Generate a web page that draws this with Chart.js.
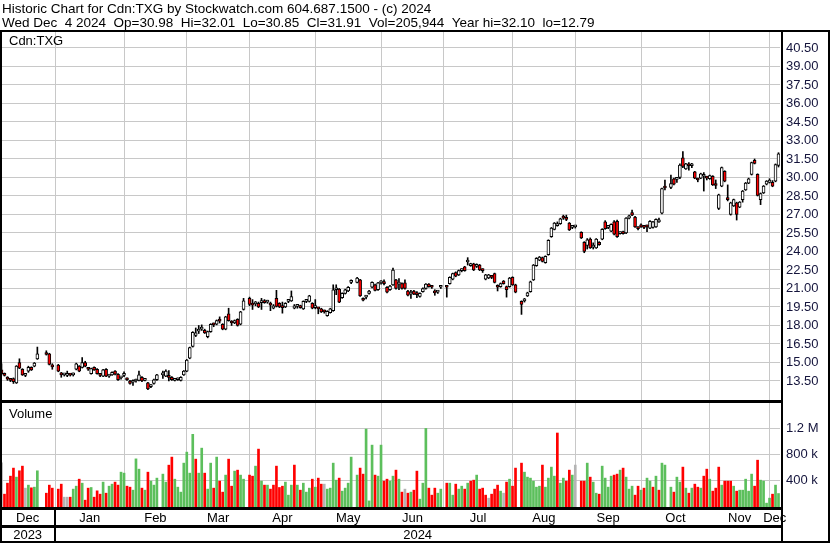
<!DOCTYPE html>
<html>
<head>
<meta charset="utf-8">
<title>Historic Chart for Cdn:TXG</title>
<script src="https://cdn.jsdelivr.net/npm/chart.js@4.4.1/dist/chart.umd.min.js"></script>
<style>
  html, body { margin: 0; padding: 0; background: #fff; }
  #chart { display: block; }
</style>
</head>
<body>
<canvas id="chart" width="830" height="543"></canvas>
<script>
const headerLines = [
  'Historic Chart for Cdn:TXG by Stockwatch.com 604.687.1500 - (c) 2024',
  'Wed Dec  4 2024  Op=30.98  Hi=32.01  Lo=30.85  Cl=31.91  Vol=205,944  Year hi=32.10  lo=12.79',
];
const symbol = 'Cdn:TXG';
const firstDay = '2023-12-06';
const lastDay = '2024-12-04';
const monthNames = ['Jan', 'Feb', 'Mar', 'Apr', 'May', 'Jun', 'Jul', 'Aug', 'Sep', 'Oct', 'Nov', 'Dec'];
const priceTicks = [13.5, 15, 16.5, 18, 19.5, 21, 22.5, 24, 25.5, 27, 28.5, 30, 31.5, 33, 34.5, 36, 37.5, 39, 40.5];
const volumeTicks = [400, 800, 1200]; // thousands of shares

// one entry per weekday, null = market closed (holiday)
const opens = [
  14.40, 14.10, 13.80, 13.65, 13.70, 13.35, 15.00, 14.45, 13.95, 14.30, 14.60, 14.70, 15.30, null, null, 15.80, 15.70, 14.70,
  null, 14.80, 14.05, 14.00, 13.95, 14.00, 14.00, 14.45, 14.70, 14.60, 15.00, 14.50, 14.10, 14.60, 14.45, 14.00, 13.90, 14.45, 13.90, 14.00, 14.30, 14.05, 13.75,
  13.95, 13.70, 13.50, 13.40, 13.50, 13.55, 13.80, 13.55, 13.35, 13.05, 13.30, 13.60, null, 14.00, 13.90, 13.85, 13.80, 13.55, 13.60, 13.55, 14.00,
  14.30, 15.35, 16.30, 17.20, 17.55, 17.70, 17.60, 17.10, 17.50, 18.10, 18.10, 18.40, 18.10, 17.70, 18.95, 18.25, 18.20, 18.50, 18.10, 19.30, null,
  20.20, 19.70, 19.75, 19.80, 19.85, 20.00, 19.90, 19.70, 19.40, 20.20, 19.80, 19.50, 19.50, 19.95, 20.00, 19.40, 19.55, 19.60, 19.35, 19.95, 19.95, 19.80,
  19.45, 19.40, 19.35, 19.20, 18.80, 19.05, 19.20, 20.90, 20.95, 20.25, 20.60, 20.80, 21.50, null, 21.50, 21.70, 20.20, 20.30, 20.60, 21.10, 21.30, 20.90, 21.45,
  21.45, 21.10, 20.90, 21.30, 21.70, 21.35, 21.40, 21.45, 20.80, 20.55, 20.80, 20.52, 20.35, 20.75, 21.00, 21.35, 21.12, 20.70, 20.70, 21.10,
  null, 21.12, 21.40, 21.75, 22.30, 22.10, 22.45, 22.75, 23.15, 22.85, 23.00, 22.80, 22.90, 22.50, 21.75, 21.85, 21.95, 22.20, 21.15, 21.15, 21.60, 21.15, 21.15,
  21.90, 21.30, null, 19.95, 20.00, 20.40, 20.75, 21.70, 22.85, 23.30, 23.50, 23.10, 23.75, 25.20, 25.80, 26.10, 26.25, 26.85, 26.62, 26.30, 25.95, 26.00,
  null, 25.55, 24.75, 24.50, 25.00, 24.35, 24.30, 24.75, 25.00, 26.40, 25.95, 25.65, 26.40, 26.45, 25.45, 25.55, 25.50, 26.70, 27.15, 26.80, 25.90,
  26.15, 26.00, 26.10, 25.90, 25.95, 26.00, 26.40, 27.10, 29.30, null, 29.20, 29.90, 29.85, 30.00, 31.60, 30.70, 31.00, 30.95, 30.45, 29.85, 29.95, 30.10, 30.00,
  29.90, 30.10, 29.40, 27.50, 29.30, 30.50, 28.25, 27.00, 27.70, 27.95, 27.60, 28.20, 29.00, 29.55, 30.25, 31.40, 30.25, 28.20, 28.75, 29.45, 29.60,
  29.60, 29.70, 30.98,
];
const highs = [
  14.90, 14.15, 13.85, 13.70, 13.75, 14.75, 15.30, 14.50, 14.10, 14.70, 14.65, 15.00, 16.25, null, null, 15.95, 15.75, 14.90,
  null, 14.85, 14.20, 14.10, 14.30, 14.05, 14.15, 14.95, 14.75, 15.40, 15.10, 14.60, 14.55, 14.65, 14.50, 14.05, 14.45, 14.50, 14.00, 14.25, 14.35, 14.10, 13.85,
  14.25, 13.75, 13.55, 13.60, 13.65, 14.30, 13.85, 13.70, 13.40, 13.20, 13.65, 14.05, null, 14.30, 14.40, 14.35, 13.85, 13.70, 13.75, 13.85, 14.35,
  15.25, 16.25, 17.50, 17.80, 18.00, 18.05, 17.70, 17.55, 18.15, 18.20, 18.45, 18.70, 18.15, 18.75, 19.40, 18.40, 18.45, 18.55, 19.15, 20.20, null,
  20.30, 20.10, 19.95, 19.90, 20.20, 20.10, 20.05, 19.90, 19.70, 20.85, 19.85, 19.90, 19.85, 20.10, 20.80, 19.70, 19.70, 19.65, 20.00, 20.10, 20.45, 19.85,
  20.10, 19.45, 19.40, 19.25, 19.20, 19.40, 21.30, 21.30, 21.00, 20.65, 20.95, 21.15, 21.70, null, 21.90, 21.75, 20.25, 20.45, 20.85, 21.55, 21.35, 21.50, 21.65,
  21.70, 21.15, 21.25, 22.65, 21.75, 21.80, 21.45, 21.70, 20.85, 20.85, 20.85, 20.75, 20.65, 21.05, 21.40, 21.40, 21.20, 20.90, 20.85, 21.25,
  null, 21.20, 21.95, 22.25, 22.35, 22.50, 22.60, 22.80, 23.50, 23.05, 23.05, 23.00, 22.95, 22.60, 22.15, 22.15, 22.05, 22.25, 21.30, 21.45, 21.65, 21.20, 21.90,
  21.95, 21.35, null, 20.00, 20.20, 20.70, 21.60, 22.95, 23.50, 23.60, 23.55, 23.65, 24.95, 25.95, 26.35, 26.40, 26.70, 26.95, 26.95, 26.35, 26.10, 26.10,
  null, 25.60, 24.80, 25.05, 25.10, 24.70, 25.05, 24.80, 25.85, 26.50, 26.10, 26.25, 26.50, 26.55, 25.60, 25.65, 26.75, 26.95, 27.35, 26.85, 26.00,
  26.25, 26.10, 26.15, 26.50, 26.45, 26.65, 26.70, 29.15, 29.80, null, 30.20, 29.95, 30.00, 31.10, 32.10, 31.15, 31.20, 31.15, 30.50, 29.95, 30.35, 30.40, 30.10,
  30.20, 30.15, 29.80, 28.65, 30.85, 30.55, 29.40, 28.00, 28.25, 28.00, 28.05, 28.95, 29.60, 29.95, 31.25, 31.50, 30.30, 28.75, 29.35, 29.75, 29.90,
  29.75, 31.10, 32.01,
];
const lows = [
  14.00, 13.90, 13.55, 13.45, 13.30, 13.30, 14.50, 13.95, 13.85, 14.20, 14.35, 14.65, 15.25, null, null, 15.60, 14.80, 14.45,
  null, 14.25, 13.80, 13.90, 13.85, 13.90, 13.90, 14.40, 14.25, 14.55, 14.65, 14.35, 14.05, 14.35, 14.05, 13.85, 13.85, 13.85, 13.80, 13.95, 14.00, 13.55, 13.65,
  13.85, 13.55, 13.25, 13.15, 13.40, 13.50, 13.45, 13.50, 12.79, 12.95, 13.25, 13.55, null, 13.70, 13.85, 13.50, 13.55, 13.50, 13.55, 13.50, 13.95,
  14.25, 15.30, 16.25, 17.10, 17.35, 17.60, 17.35, 17.00, 17.45, 17.90, 18.05, 18.20, 17.65, 17.65, 18.35, 18.00, 18.15, 17.95, 18.05, 19.25, null,
  19.60, 19.30, 19.60, 19.45, 19.30, 19.80, 19.80, 19.20, 19.35, 19.50, 19.45, 19.00, 19.45, 19.85, 19.95, 19.35, 19.40, 19.40, 19.30, 19.85, 19.90, 19.35,
  19.35, 18.95, 19.05, 19.00, 18.75, 19.00, 19.15, 20.50, 19.85, 20.20, 20.55, 20.75, 21.40, null, 21.45, 20.35, 20.00, 20.15, 20.55, 21.05, 20.80, 20.85, 21.35,
  21.30, 20.65, 20.85, 21.25, 20.95, 20.90, 20.95, 20.95, 20.40, 20.20, 20.50, 20.25, 20.30, 20.70, 20.95, 21.10, 21.00, 20.45, 20.60, 21.00,
  null, 20.30, 21.35, 21.70, 21.95, 22.05, 22.35, 22.40, 22.90, 22.80, 22.45, 22.70, 22.45, 22.30, 21.70, 21.80, 21.80, 21.45, 20.80, 21.10, 21.35, 20.30, 21.10,
  21.25, 20.65, null, 18.90, 19.90, 20.35, 20.70, 21.65, 22.80, 23.25, 23.15, 23.05, 23.70, 25.15, 25.75, 26.05, 26.20, 26.60, 26.50, 25.70, 25.85, 25.90,
  null, 25.05, 23.90, 24.20, 24.25, 24.20, 24.25, 24.50, 24.95, 25.80, 25.85, 25.60, 25.35, 25.15, 25.40, 25.40, 25.45, 26.65, 26.90, 25.95, 25.75,
  25.95, 25.85, 25.60, 25.85, 25.90, 25.95, 26.35, 27.05, 29.00, null, 29.10, 29.40, 29.60, 29.90, 30.80, 30.65, 30.60, 30.80, 29.90, 29.65, 29.90, 28.90, 29.80,
  29.85, 29.35, 29.10, 27.40, 29.25, 29.65, 28.10, 26.95, 27.65, 26.55, 27.55, 28.00, 28.95, 29.50, 30.20, 31.10, 28.50, 27.80, 28.70, 29.40, 29.55,
  29.25, 29.65, 30.85,
];
const closes = [
  14.10, 13.95, 13.65, 13.55, 13.45, 14.70, 14.55, 14.00, 14.00, 14.60, 14.40, 14.95, 15.70, null, null, 15.65, 14.85, 14.65,
  null, 14.30, 14.00, 14.00, 14.00, 13.97, 14.05, 14.90, 14.30, 15.00, 14.70, 14.45, 14.50, 14.40, 14.10, 13.95, 14.40, 13.90, 13.95, 14.20, 14.05, 13.60, 13.75,
  14.00, 13.60, 13.30, 13.45, 13.55, 14.00, 13.50, 13.60, 12.85, 13.10, 13.60, 14.00, null, 14.05, 14.30, 13.80, 13.60, 13.65, 13.70, 13.80, 14.30,
  15.20, 16.20, 17.45, 17.40, 17.70, 17.80, 17.40, 17.50, 18.10, 18.05, 18.40, 18.35, 17.70, 18.70, 18.40, 18.20, 18.40, 18.00, 19.10, 20.00, null,
  19.70, 19.65, 19.80, 19.50, 19.90, 19.85, 19.95, 19.65, 19.60, 19.55, 19.50, 19.45, 19.80, 20.00, 20.35, 19.60, 19.65, 19.45, 19.95, 20.00, 20.40, 19.40,
  19.50, 19.35, 19.10, 19.10, 19.15, 19.35, 20.90, 20.95, 19.90, 20.60, 20.90, 21.10, 21.60, null, 21.85, 20.40, 20.05, 20.35, 20.80, 21.50, 20.85, 21.45, 21.50,
  21.40, 20.70, 21.20, 22.50, 21.00, 21.40, 21.00, 21.00, 20.45, 20.60, 20.55, 20.50, 20.60, 21.00, 21.35, 21.15, 21.10, 20.65, 20.75, 21.15,
  null, 21.10, 21.90, 22.20, 22.00, 22.45, 22.50, 22.45, 23.20, 23.00, 22.50, 22.85, 22.50, 22.45, 22.10, 22.10, 21.90, 21.50, 21.10, 21.40, 21.40, 20.90, 21.85,
  21.30, 20.70, null, 19.70, 20.10, 20.65, 21.55, 22.90, 23.45, 23.55, 23.20, 23.60, 24.90, 25.90, 26.30, 26.25, 26.65, 26.70, 26.60, 25.75, 26.00, 26.00,
  null, 25.10, 24.00, 24.95, 24.30, 24.50, 25.00, 24.55, 25.80, 25.85, 26.00, 26.20, 25.40, 25.20, 25.50, 25.45, 26.70, 26.90, 26.95, 26.00, 25.85,
  26.00, 25.95, 26.00, 26.45, 26.40, 26.60, 26.55, 29.10, 29.15, null, 29.50, 29.45, 29.90, 31.00, 30.90, 31.10, 30.95, 31.00, 29.95, 29.80, 30.30, 30.25, 29.95,
  30.15, 29.40, 29.35, 28.60, 30.80, 29.70, 28.20, 27.95, 28.20, 27.00, 28.00, 28.90, 29.55, 29.90, 31.20, 31.15, 28.55, 28.70, 29.30, 29.70, 29.80,
  29.30, 31.05, 31.91,
];
const volumes = [ // thousands
  675, 196, 364, 471, 594, 456, 553, 624, 288, 334, 293, 303, 553, null, null, 211, 334, 288,
  null, 273, 349, 150, 150, 150, 273, 318, 425, 364, 104, 288, 298, 150, 247, 196, 380, 211, 318, 349, 380, 334, 532,
  517, 318, 303, 257, 735, 578, 288, 257, 532, 395, 334, 441, null, 502, 380, 639, 762, 425, 303, 227, 670,
  838, 517, 1110, 731, 517, 899, 517, 273, 670, 288, 762, 395, 227, 487, 731, 318, 548, 563, 487, 425, null,
  487, 471, 624, 884, 395, 334, 334, 273, 334, 624, 298, 318, 380, 181, 334, 640, 334, 257, 364, 227, 288, 425,
  303, 441, 349, 349, 273, 288, 670, 410, 441, 242, 288, 364, 762, null, 487, 594, 502, 1190, 93, 945, 487, 471, 945,
  395, 425, 395, 471, 563, 425, 227, 273, 211, 227, 257, 548, 120, 364, 1200, 288, 181, 288, 211, 273,
  null, 364, 364, 181, 349, 273, 318, 273, 364, 395, 410, 487, 273, 288, 181, 135, 196, 273, 334, 242, 211, 380, 425,
  318, 594, null, 670, 532, 456, 441, 395, 303, 318, 640, 303, 441, 609, 471, 1130, 364, 441, 395, 563, 487, 640,
  null, 395, 395, 670, 456, 380, 211, 196, 624, 441, 303, 471, 487, 502, 563, 594, 456, 273, 318, 181, 318,
  257, 288, 441, 395, 303, 471, 257, 670, 640, null, 303, 227, 456, 380, 609, 288, 211, 288, 349, 303, 288, 471, 578,
  425, 242, 288, 609, 334, 395, 395, 395, 318, 242, 257, 257, 425, 242, 502, 318, 715, 410, 395, 59, 135,
  196, 334, 206,
];

const palette = {
  frame: '#000',
  grid: '#c8c8c8',
  axisText: '#14143c',
  up: '#ffffff',
  down: '#ff0000',
  volUp: '#5cbf5c',
  volDown: '#ff0000',
  volFlat: '#b4b4b4',
};
const family = '"Liberation Sans", Arial, sans-serif';
Chart.defaults.font.family = family;
Chart.defaults.font.size = 13;
Chart.defaults.color = '#000';

// every weekday is a slot, holidays stay empty
function weekdays(from, to) {
  const out = [];
  const d = new Date(from + 'T00:00:00Z');
  const end = new Date(to + 'T00:00:00Z');
  while (d <= end) {
    const wd = d.getUTCDay();
    if (wd !== 0 && wd !== 6) out.push(new Date(d));
    d.setUTCDate(d.getUTCDate() + 1);
  }
  return out;
}
const days = weekdays(firstDay, lastDay);
const labels = days.map((d) => d.toISOString().slice(0, 10));

// month grid line sits on the 1st, or on the Friday before when the 1st is a weekend
const monthLines = [];
for (let i = 1; i < days.length; i++) {
  if (days[i].getUTCMonth() !== days[i - 1].getUTCMonth()) {
    monthLines.push({
      index: days[i].getUTCDate() === 1 ? i : i - 1,
      month: days[i].getUTCMonth(),
      year: days[i].getUTCFullYear(),
    });
  }
}
const lineSet = new Set(monthLines.map((m) => m.index));

const bodies = opens.map((o, i) => (o == null ? null : [o, closes[i]]));
const ranges = lows.map((l, i) => (l == null ? null : [l, highs[i]]));
const bodyColors = opens.map((o, i) => (o != null && closes[i] < o ? palette.down : palette.up));
let prevClose = null;
const volColors = closes.map((c) => {
  if (c == null) return palette.volFlat;
  let col = palette.volFlat;
  if (prevClose != null && c > prevClose) col = palette.volUp;
  else if (prevClose != null && c < prevClose) col = palette.volDown;
  prevClose = c;
  return col;
});

const frame = {
  id: 'frame',
  afterDraw(chart) {
    const { ctx, chartArea: area, scales } = chart;
    const x = scales.x;
    const yv = scales.yv;
    const right = area.right + 1;
    ctx.save();
    ctx.fillStyle = palette.frame;
    ctx.textAlign = 'left';
    ctx.textBaseline = 'alphabetic';
    ctx.font = '13.5px ' + family;
    ctx.fillText(headerLines[0], 2, 13);
    ctx.fillText(headerLines[1], 2, 27);
    ctx.font = '13px ' + family;
    ctx.fillText(symbol, 9, 45);
    ctx.fillText('Volume', 9, yv.top + 18);

    // borders and panel separators
    ctx.fillRect(0, 30, 830, 2);
    ctx.fillRect(0, 30, 2, 513);
    ctx.fillRect(828, 30, 2, 513);
    ctx.fillRect(right, 30, 2, 513);
    ctx.fillRect(0, yv.top, right + 2, 3);
    ctx.fillRect(0, area.bottom, right + 2, 3);
    ctx.fillRect(0, 525, right + 2, 3);
    ctx.fillRect(0, 541, 830, 2);

    // month names centred between grid lines
    ctx.textAlign = 'center';
    const edges = [area.left, ...monthLines.map((m) => x.getPixelForValue(m.index)), area.right];
    const names = [days[0].getUTCMonth(), ...monthLines.map((m) => m.month)];
    names.forEach((m, k) => {
      ctx.fillText(monthNames[m], (edges[k] + edges[k + 1]) / 2, 522);
    });

    // year row
    const yearBreaks = monthLines.filter((m) => m.month === 0);
    const yEdges = [area.left, ...yearBreaks.map((m) => x.getPixelForValue(m.index)), area.right];
    const years = [days[0].getUTCFullYear(), ...yearBreaks.map((m) => m.year)];
    years.forEach((yr, k) => {
      ctx.fillText(String(yr), (yEdges[k] + yEdges[k + 1]) / 2, 539);
    });
    yearBreaks.forEach((m) => {
      ctx.fillRect(Math.round(x.getPixelForValue(m.index)) - 1, area.bottom, 2, 541 - area.bottom);
    });
    ctx.restore();
  },
};

new Chart(document.getElementById('chart'), {
  type: 'bar',
  data: {
    labels: labels,
    datasets: [
      {
        label: 'Open/Close',
        data: bodies,
        yAxisID: 'y',
        backgroundColor: bodyColors,
        borderColor: '#000',
        borderWidth: 1,
        borderSkipped: false,
        barThickness: 3,
        minBarLength: 2,
        grouped: false,
        order: 0,
      },
      {
        label: 'Low/High',
        data: ranges,
        yAxisID: 'y',
        backgroundColor: '#000',
        borderWidth: 0,
        barThickness: 1,
        grouped: false,
        order: 1,
      },
      {
        label: 'Volume',
        data: volumes,
        yAxisID: 'yv',
        backgroundColor: volColors,
        borderWidth: 0,
        barThickness: 2,
        grouped: false,
        order: 2,
      },
    ],
  },
  options: {
    responsive: false,
    animation: false,
    events: [],
    layout: { padding: { top: 32, left: 0, right: 0, bottom: 18 }, autoPadding: false },
    plugins: { legend: { display: false }, tooltip: { enabled: false } },
    scales: {
      x: {
        offset: true,
        border: { display: false },
        ticks: { display: false, autoSkip: false },
        grid: {
          offset: false,
          drawTicks: false,
          lineWidth: 1,
          color: (c) => (lineSet.has(c.index) ? palette.grid : 'rgba(0,0,0,0)'),
        },
        afterFit: (s) => { s.height = 18; },
      },
      y: {
        position: 'right',
        stack: 'panels',
        stackWeight: 3.4393,
        min: 11.959,
        max: 41.797,
        border: { display: false },
        grid: { color: palette.grid, drawTicks: false },
        ticks: { padding: 6, autoSkip: false, color: palette.axisText, callback: (v) => Number(v).toFixed(2) },
        afterBuildTicks: (s) => { s.ticks = priceTicks.map((v) => ({ value: v })); },
        afterFit: (s) => { s.width = 50; },
      },
      yv: {
        position: 'right',
        stack: 'panels',
        stackWeight: 1,
        min: 0,
        max: 1634,
        border: { display: false },
        grid: { color: palette.grid, drawTicks: false },
        ticks: {
          padding: 6,
          autoSkip: false,
          color: palette.axisText,
          callback: (v) => (v >= 1000 ? (v / 1000).toFixed(1) + ' M' : v + ' k'),
        },
        afterBuildTicks: (s) => { s.ticks = volumeTicks.map((v) => ({ value: v })); },
        afterFit: (s) => { s.width = 50; },
      },
    },
  },
  plugins: [frame],
});
</script>
</body>
</html>
